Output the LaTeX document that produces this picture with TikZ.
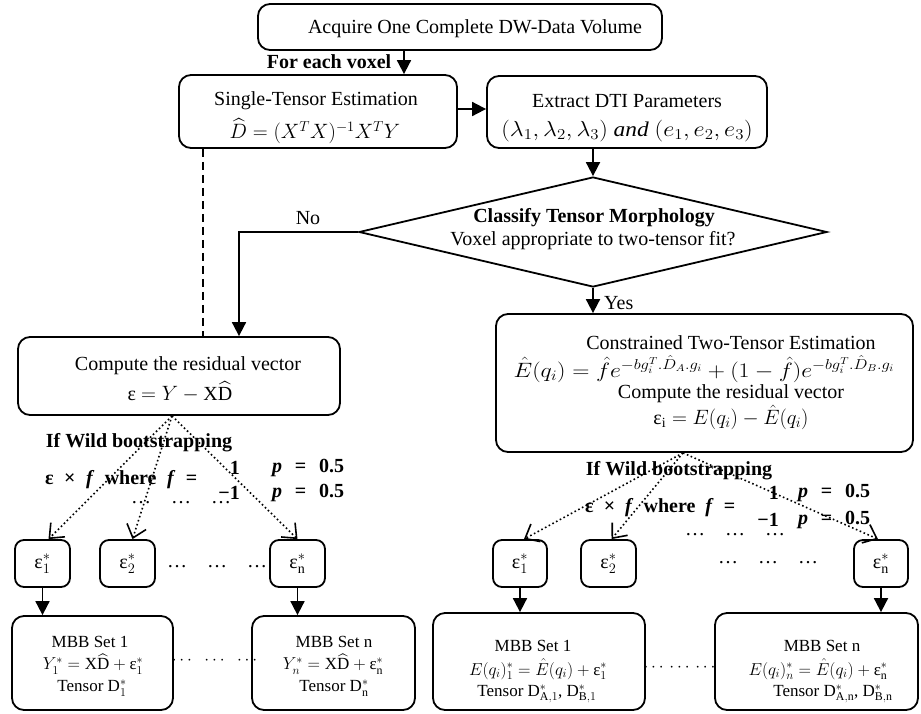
\documentclass[tikz,border=0pt]{standalone}
\usepackage{amsmath}
\usepackage{fontspec}
\setmainfont{Liberation Serif}
\usetikzlibrary{arrows.meta,shapes.geometric,calc}
\newcommand{\fsA}{\fontsize{20}{24}\selectfont}
\newcommand{\fsB}{\fontsize{17}{20}\selectfont}
\begin{document}
\begin{tikzpicture}[x=1pt,y=-1pt,
  box/.style={draw, line width=1.8pt, rounded corners=12pt, inner sep=0pt},
  txt/.style={inner sep=0pt, font=\fsA},
  btxt/.style={inner sep=0pt, font=\fsA\bfseries},
  stxt/.style={inner sep=0pt, font=\fsB},
  arr/.style={line width=1.8pt, -{Triangle[length=14pt,width=14pt]}},
  dotarr/.style={line width=1.6pt, dash pattern=on 1.6pt off 2.6pt, -{Straight Barb[length=12pt,width=20pt,line width=1.6pt]}},
  dashln/.style={line width=1.4pt, dash pattern=on 8pt off 5pt}]
\useasboundingbox (0,0) rectangle (921,713);

% top row
\node[box, minimum width=404pt, minimum height=46pt] (top) at (460,27) {};
\node[txt] (topt) at (475,29) {Acquire One Complete DW-Data Volume};
\node[btxt] (each) at (329,62) {For each voxel};

\node[box, minimum width=278pt, minimum height=73pt] (single) at (318,111.5) {};
\node[txt] (single1) at (316,101) {Single-Tensor Estimation};
\node[txt] (single2) at (315,131) {$\widehat{D}=(X^TX)^{-1}X^TY$};

\node[box, minimum width=280pt, minimum height=72pt] (extract) at (627,112) {};
\node[txt] (extract1) at (627,101) {Extract DTI Parameters};
\node[txt] (extract2) at (627,131) {\scalebox{1.17}[1.05]{$(\lambda_1,\lambda_2,\lambda_3)\ \mathit{and}\ (e_1,e_2,e_3)$}};

% decision
\node[draw, diamond, line width=1.8pt, minimum width=468pt, minimum height=110pt, inner sep=0pt] (dia) at (593,232) {};
\node[btxt] (dia1) at (594,218) {Classify Tensor Morphology};
\node[txt] (dia2) at (593,241) {Voxel appropriate to two-tensor fit?};
\node[txt] (no) at (308,218) {No};
\node[txt, anchor=west] (yes) at (604,303) {Yes};

% residual boxes
\node[box, minimum width=322pt, minimum height=78pt] (res) at (179,376) {};
\node[txt] (res1) at (188,366) {Compute the residual vector};
\node[txt] (res2) at (180,392) {ε $=Y-\mathrm{X}\widehat{\mathrm{D}}$};

\node[box, minimum width=417pt, minimum height=138pt] (two) at (704.5,383) {};
\node[txt] (two1) at (731,343) {Constrained Two-Tensor Estimation};
\node[txt] (two2) at (704,369) {\scalebox{1.15}[1.0]{$\hat{E}(q_i)=\hat{f}e^{-bg_i^T.\hat{D}_A.g_i}+(1-\hat{f})e^{-bg_i^T.\hat{D}_B.g_i}$}};
\node[txt] (two3) at (731,394) {Compute the residual vector};
\node[txt] (two4) at (731,417) {ε$_{\mathrm{i}}=E(q_i)-\hat{E}(q_i)$};

% wild bootstrap labels left
\node[btxt] (wl1) at (139,443) {If Wild bootstrapping};
\node[btxt, anchor=west] (wl2) at (45,480) {\makebox[152pt][s]{ε × \textit{f} where \textit{f} =}};
\node[btxt, anchor=east] (wl3) at (240,468) {1};
\node[btxt, anchor=east] (wl4) at (240,493) {−1};
\node[btxt] (wl5) at (308,468) {\makebox[72pt][s]{\textit{p} = 0.5}};
\node[btxt] (wl6) at (308,493) {\makebox[72pt][s]{\textit{p} = 0.5}};
\node[txt] (wl7) at (181,503) {\ldots\quad\ldots\quad\ldots};

% wild bootstrap labels right
\node[btxt] (wr1) at (679,471) {If Wild bootstrapping};
\node[btxt, anchor=west] (wr2) at (585,508) {\makebox[150pt][s]{ε × \textit{f} where \textit{f} =}};
\node[btxt, anchor=east] (wr3) at (779,493) {1};
\node[btxt, anchor=east] (wr4) at (779,520) {−1};
\node[btxt] (wr5) at (834,493) {\makebox[72pt][s]{\textit{p} = 0.5}};
\node[btxt] (wr6) at (834,520) {\makebox[72pt][s]{\textit{p} = 0.5}};
\node[txt] (wr7) at (735,535) {\ldots\quad\ldots\quad\ldots};

% small epsilon boxes
\node[box, rounded corners=9pt, minimum width=55pt, minimum height=47pt] (e1L) at (42.5,563.5) {};
\node[txt] (e1Lt) at (e1L) {ε$^*_1$};
\node[box, rounded corners=9pt, minimum width=55pt, minimum height=47pt] (e2L) at (127.5,563.5) {};
\node[txt] (e2Lt) at (e2L) {ε$^*_2$};
\node[box, rounded corners=9pt, minimum width=55pt, minimum height=47pt] (enL) at (297.5,563.5) {};
\node[txt] (enLt) at (enL) {ε$^*_{\mathrm{n}}$};
\node[txt] (dL) at (217,567) {\ldots\quad\ldots\quad\ldots};

\node[box, rounded corners=9pt, minimum width=54pt, minimum height=47pt] (e1R) at (520,563.5) {};
\node[txt] (e1Rt) at (e1R) {ε$^*_1$};
\node[box, rounded corners=9pt, minimum width=55pt, minimum height=47pt] (e2R) at (608.5,563.5) {};
\node[txt] (e2Rt) at (e2R) {ε$^*_2$};
\node[box, rounded corners=9pt, minimum width=54pt, minimum height=47pt] (enR) at (881,563.5) {};
\node[txt] (enRt) at (enR) {ε$^*_{\mathrm{n}}$};
\node[txt] (dR) at (768,563) {\ldots\quad\ldots\quad\ldots};

% MBB boxes
\node[box, minimum width=161pt, minimum height=94pt] (m1L) at (92.5,663) {};
\node[stxt] (m1L1) at (90,642) {MBB Set 1};
\node[stxt] (m1L2) at (93,664) {$Y_1^*=\mathrm{X}\widehat{\mathrm{D}}+{}$ε$^*_1$};
\node[stxt] (m1L3) at (92,688) {Tensor D$^*_1$};
\node[box, minimum width=163pt, minimum height=94pt] (mnL) at (333.5,663) {};
\node[stxt] (mnL1) at (334,642) {MBB Set n};
\node[stxt] (mnL2) at (333,664) {$Y_n^*=\mathrm{X}\widehat{\mathrm{D}}+{}$ε$^*_{\mathrm{n}}$};
\node[stxt] (mnL3) at (334,688) {Tensor D$^*_{\mathrm{n}}$};
\node[stxt] (mdL) at (216,661) {$\cdots\;\;\cdots\;\;\cdots$};

\node[box, minimum width=212pt, minimum height=97pt] (m1R) at (539,661.5) {};
\node[stxt] (m1R1) at (533,646) {MBB Set 1};
\node[stxt] (m1R2) at (538,669) {$E(q_i)_1^*=\hat{E}(q_i)+{}$ε$^*_1$};
\node[stxt] (m1R3) at (537,694) {Tensor D$^*_{\mathrm{A},1}$, D$^*_{\mathrm{B},1}$};
\node[box, minimum width=203pt, minimum height=97pt] (mnR) at (816.5,661.5) {};
\node[stxt] (mnR1) at (822,646) {MBB Set n};
\node[stxt] (mnR2) at (818,669) {$E(q_i)_n^*=\hat{E}(q_i)+{}$ε$^*_{\mathrm{n}}$};
\node[stxt] (mnR3) at (833,694) {Tensor D$^*_{\mathrm{A,n}}$, D$^*_{\mathrm{B,n}}$};
\node[stxt] (mdR) at (681,668) {$\cdots\,\cdots\,\cdots$};

% helper coordinates
\coordinate (cA) at (404,0);
\coordinate (cNo) at (239,0);
\coordinate (cD) at (203,0);
\coordinate (cL) at (172,0);
\coordinate (cR) at (683,0);
\coordinate (cY) at (0,109);

% connectors
\draw[arr] (top.south -| cA) -- (single.north -| cA);
\draw[arr] (single.east |- cY) -- (extract.west |- cY);
\draw[arr] (extract.south -| dia.north) -- (dia.north);
\draw[arr] (dia.west) -| (res.north -| cNo);
\draw[arr] (dia.south) -- (two.north -| dia.south);
\draw[dashln] (single.south -| cD) -- (res.north -| cD);

\draw[dotarr] (res.south -| cL) -- ($(e1L.north)+(6,0)$);
\draw[dotarr] (res.south -| cL) -- ($(e2L.north)+(5,0)$);
\draw[dotarr] (res.south -| cL) -- (enL.north);
\draw[dotarr] (two.south -| cR) -- ($(e1R.north)+(4,0)$);
\draw[dotarr] (two.south -| cR) -- ($(e2R.north)+(3,0)$);
\draw[dotarr] (two.south -| cR) -- ($(enR.north)+(-3,0)$);

\draw[arr] (e1L.south) -- (m1L.north -| e1L.south);
\draw[arr] (enL.south) -- (mnL.north -| enL.south);
\draw[arr] (e1R.south) -- (m1R.north -| e1R.south);
\draw[arr] (enR.south) -- (mnR.north -| enR.south);
\end{tikzpicture}
\end{document}
